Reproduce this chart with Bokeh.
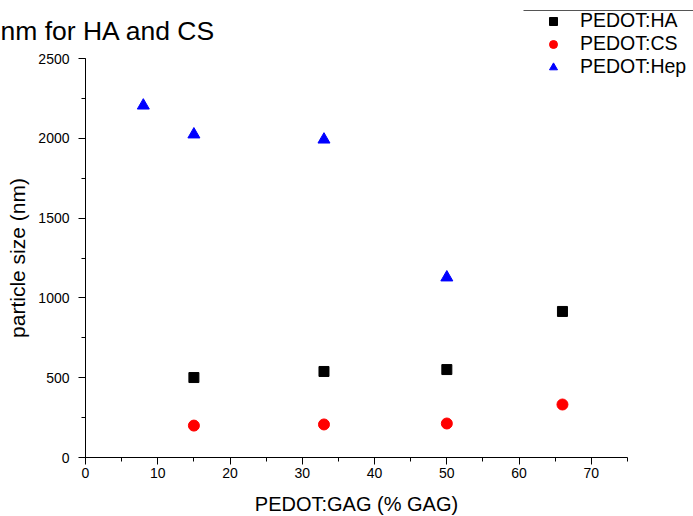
from bokeh.plotting import figure
from bokeh.models import Range1d, Label, Legend, LegendItem, Arrow, FixedTicker
from bokeh.embed import file_html
from bokeh.resources import INLINE

# PEDOT:GAG composition (% GAG) and measured particle size (nm)
ha_gag = [15, 33, 50, 66]
ha_size = [501, 539, 551, 915]

cs_gag = [15, 33, 50, 66]
cs_size = [200, 207, 213, 332]

hep_gag = [8, 15, 33, 50]
hep_size = [2205, 2024, 1992, 1128]

x_ticks = [0, 10, 20, 30, 40, 50, 60, 70]
y_ticks = [0, 500, 1000, 1500, 2000, 2500]

FONT = "Liberation Sans"

# The plot area covers the whole canvas; both axes are pinned at the origin
# and limited to 0-75 / 0-2500, so the heading and legend can sit anywhere.
p = figure(width=693, height=516, output_backend="svg", toolbar_location=None,
           x_range=Range1d(-11.762, 84.133), y_range=Range1d(-369.67, 2863.41),
           min_border_left=0, min_border_right=0, min_border_top=0,
           min_border_bottom=0)
p.outline_line_color = None
p.grid.visible = False
p.background_fill_color = "white"
p.border_fill_color = "white"

for ax in (p.xaxis[0], p.yaxis[0]):
    ax.axis_line_color = "black"
    ax.major_tick_line_color = "black"
    ax.minor_tick_line_color = "black"
    ax.major_tick_out = 7
    ax.major_tick_in = 0
    ax.minor_tick_out = 4
    ax.minor_tick_in = 0
    ax.major_label_text_font = FONT
    ax.major_label_text_font_size = "14px"
    ax.major_label_text_color = "black"
    ax.axis_label_text_font = FONT
    ax.axis_label_text_font_size = "20px"
    ax.axis_label_text_font_style = "normal"
    ax.axis_label_text_color = "black"

p.xaxis.fixed_location = 0
p.yaxis.fixed_location = 0
p.xaxis.bounds = (0, 75)
p.yaxis.bounds = (0, 2500)
p.xaxis.ticker = FixedTicker(ticks=x_ticks, minor_ticks=list(range(0, 76, 5)))
p.yaxis.ticker = FixedTicker(ticks=y_ticks, minor_ticks=list(range(0, 2501, 250)))
p.xaxis.axis_label = "PEDOT:GAG (% GAG)"
p.yaxis.axis_label = "particle size (nm)"
p.yaxis.axis_label_text_font_size = "21px"
p.xaxis.major_label_standoff = 3
p.xaxis.axis_label_standoff = 12
p.yaxis.major_label_standoff = 9
p.yaxis.axis_label_standoff = 6

r_ha = p.scatter(ha_gag, ha_size, marker="square", size=10,
                 fill_color="black", line_color="black")
r_cs = p.scatter(cs_gag, cs_size, marker="circle", size=11,
                 fill_color="red", line_color="red")
r_hep = p.scatter(hep_gag, hep_size, marker="triangle", size=12,
                  fill_color="blue", line_color="blue")

legend = Legend(items=[
    LegendItem(label="PEDOT:HA", renderers=[r_ha]),
    LegendItem(label="PEDOT:CS", renderers=[r_cs]),
    LegendItem(label="PEDOT:Hep", renderers=[r_hep]),
], location=(543, 438), orientation="vertical",
    glyph_width=20, glyph_height=22, label_height=22, label_standoff=17,
    spacing=0, padding=0, margin=0,
    label_text_font=FONT, label_text_font_size="19.5px",
    label_text_color="black",
    border_line_color=None, background_fill_alpha=0)
p.add_layout(legend, "center")

# rule above the legend
p.add_layout(Arrow(x_start=523, y_start=506, x_end=693, y_end=506,
                   start_units="screen", end_units="screen", end=None,
                   line_color="#555555", line_width=1))

# heading text, running off the left edge
p.add_layout(Label(x=0, y=486, x_units="screen", y_units="screen",
                   text="nm for HA and CS", text_font=FONT,
                   text_font_size="26.5px", text_baseline="middle",
                   text_color="black"))

open("out.html", "w").write(file_html(p, INLINE))
